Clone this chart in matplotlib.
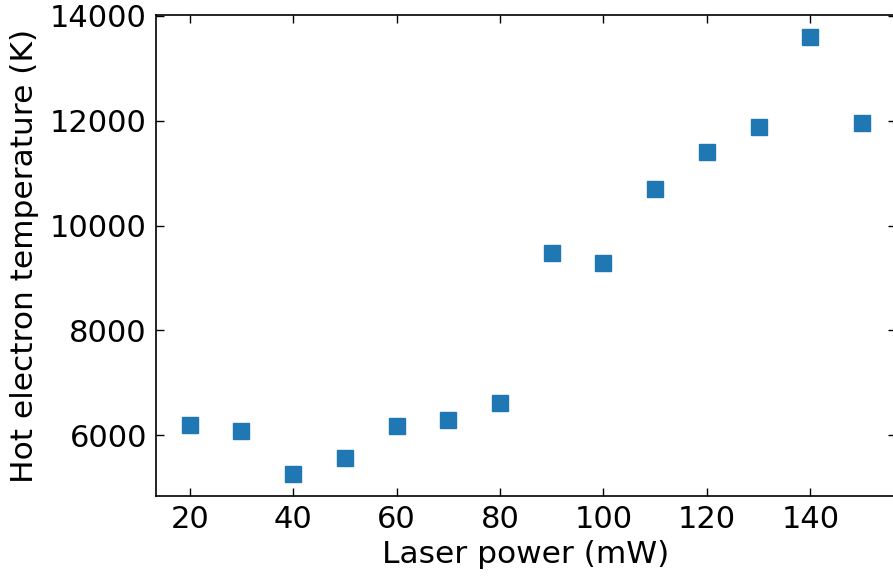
import matplotlib
matplotlib.use("Agg")
import matplotlib.pyplot as plt

# laser power sweep and fitted hot electron temperature
power_mw = [20, 30, 40, 50, 60, 70, 80, 90, 100, 110, 120, 130, 140, 150]
temp_k = [6190, 6076, 5257, 5562, 6171, 6286, 6610, 9467, 9295,
          10705, 11410, 11886, 13600, 11962]

fig = plt.figure(figsize=(8.93, 5.78), dpi=100)
ax = fig.add_axes([0.1747, 0.1419, 0.8283, 0.8321])

ax.plot(power_mw, temp_k, linestyle="none", marker="s", markersize=11,
        color="#1f77b4")

ax.set_xlabel("Laser power (mW)", fontsize=22.5, labelpad=4)
ax.set_ylabel("Hot electron temperature (K)", fontsize=22.5, labelpad=8)
ax.set_xticks([20, 40, 60, 80, 100, 120, 140])
ax.set_yticks([6000, 8000, 10000, 12000, 14000])
ax.tick_params(direction="in", top=True, right=True, length=6, width=1,
               labelsize=22, pad=6.5)
for s in ax.spines.values():
    s.set_linewidth(1.2)

fig.savefig("out.png", dpi=100)
